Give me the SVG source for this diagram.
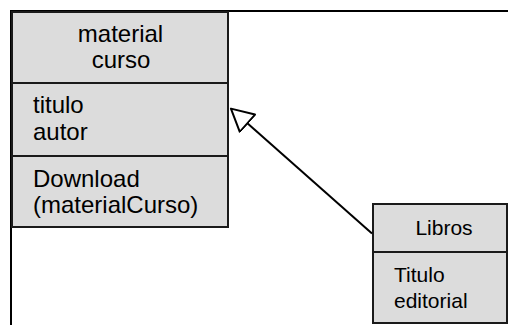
<svg xmlns="http://www.w3.org/2000/svg" width="509" height="325" viewBox="0 0 509 325">
  <style>
    .cls { fill: #dcdcdc; stroke: #1a1a1a; stroke-width: 2; }
    .sep { stroke: #1a1a1a; stroke-width: 2; }
    .t { font-family: "Liberation Sans", Arial, sans-serif; fill: #000; }
    .big { font-size: 24px; }
    .small { font-size: 21px; }
    .edge { stroke: #000; stroke-width: 2; fill: none; }
  </style>
  <defs>
    <marker id="generalization" markerUnits="userSpaceOnUse" markerWidth="26" markerHeight="28" refX="1" refY="13" orient="auto">
      <path d="M1,1.5 L23,13 L1,24.5 Z" fill="#fff" stroke="#000" stroke-width="2" stroke-linejoin="round"/>
    </marker>
  </defs>

  <rect width="509" height="325" fill="#fff"/>

  <!-- outer frame -->
  <path d="M11,325 V11 H508" stroke="#000" stroke-width="2" fill="none"/>

  <g id="materialCurso">
    <rect class="cls" x="12" y="12" width="216" height="215"/>
    <line class="sep" x1="12" y1="83" x2="228" y2="83"/>
    <line class="sep" x1="12" y1="156" x2="228" y2="156"/>
    <text class="t big" x="120.5" y="42" text-anchor="middle">material</text>
    <text class="t big" x="121" y="68" text-anchor="middle">curso</text>
    <text class="t big" x="33" y="113">titulo</text>
    <text class="t big" x="33" y="140">autor</text>
    <text class="t big" x="33" y="187">Download</text>
    <text class="t big" x="33" y="213">(materialCurso)</text>
  </g>

  <g id="libros">
    <rect class="cls" x="373" y="204" width="134" height="119"/>
    <line class="sep" x1="373" y1="252" x2="507" y2="252"/>
    <text class="t small" x="444" y="235" text-anchor="middle">Libros</text>
    <text class="t small" x="394" y="282">Titulo</text>
    <text class="t small" x="394" y="308">editorial</text>
  </g>

  <g id="connectors">
    <line class="edge" x1="372" y1="233.5" x2="247.4" y2="123.2" marker-end="url(#generalization)"/>
  </g>
</svg>
